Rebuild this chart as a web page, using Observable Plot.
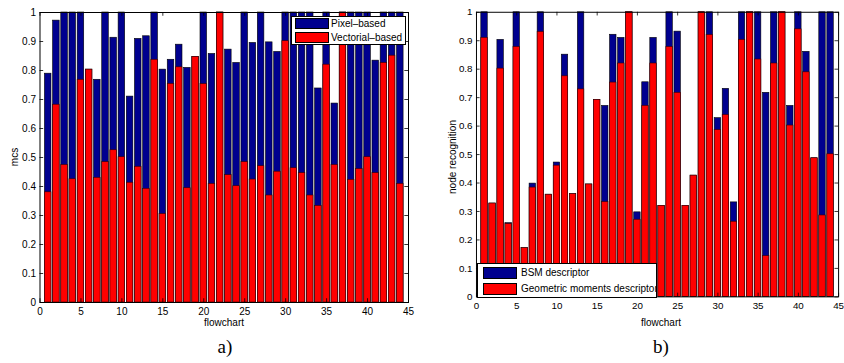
<!DOCTYPE html>
<html><head><meta charset="utf-8">
<script src="https://cdn.jsdelivr.net/npm/d3@7"></script>
<script src="https://cdn.jsdelivr.net/npm/@observablehq/plot@0.6"></script>
<style>
html,body{margin:0;padding:0;background:#fff;overflow:hidden}
#fig{position:relative;width:844px;height:363px;overflow:hidden;font-family:"Liberation Sans",Arial,sans-serif;background:#fff}
.pw{position:absolute;top:0}
.lbl{position:absolute;font-size:10px;color:#000;white-space:nowrap;transform:translate(-50%,-50%);line-height:1}
.rot{transform:translate(-50%,-50%) rotate(-90deg)}
.legend{position:absolute;background:#fff;border:1px solid #000;box-sizing:border-box;overflow:hidden}
.sw{position:absolute;border:1px solid #000;box-sizing:border-box;width:34px}
.lt{position:absolute;font-size:10px;line-height:1;transform:translateY(-50%);white-space:nowrap}
.cap{position:absolute;font-family:"Liberation Serif","DejaVu Serif",serif;font-size:19px;transform:translate(-50%,-50%);line-height:1}
</style></head><body><div id="fig"></div>
<script>
// ---- data ----
const flowcharts = d3.range(1, 45);
const xTicks = [0, 5, 10, 15, 20, 25, 30, 35, 40, 45];
const yTicks = [0, 0.1, 0.2, 0.3, 0.4, 0.5, 0.6, 0.7, 0.8, 0.9, 1];

const mcsPixel = [0.789, 0.972, 1, 1, 1, 0.803, 0.768, 1, 0.913, 1, 0.710, 0.909, 0.918, 1, 0.803, 0.837, 0.889, 0.809, 0.847, 1, 0.857, 1,
  0.872, 0.826, 1, 0.895, 1, 0.897, 0.864, 1, 1, 1, 1, 0.738, 1, 0.686, 1, 1, 1, 1, 0.834, 1, 1, 1];
const mcsVectorial = [0.380, 0.682, 0.474, 0.425, 0.768, 0.803, 0.430, 0.484, 0.525, 0.501, 0.413, 0.468, 0.392, 0.837, 0.305, 0.754, 0.811, 0.394, 0.847, 0.753, 0.409, 1,
  0.439, 0.401, 0.484, 0.424, 0.470, 0.369, 0.451, 0.901, 0.463, 0.446, 0.369, 0.333, 0.820, 0.474, 1, 0.423, 0.460, 0.501, 0.446, 0.826, 0.851, 0.409];

const nodeBSM = [1, 0.328, 0.903, 0.259, 1, 0.171, 0.398, 1, 0.359, 0.472, 0.851, 0.361, 1, 0.395, 0.692, 0.671, 0.921, 0.910, 1, 0.297, 0.754, 0.910,
  0.320, 1, 0.932, 0.320, 0.426, 1, 1, 0.628, 0.731, 0.332, 1, 1, 1, 0.717, 1, 1, 0.671, 1, 0.861, 0.487, 1, 1];
const nodeGeometric = [0.910, 0.328, 0.802, 0.256, 0.878, 0.171, 0.384, 0.931, 0.359, 0.461, 0.775, 0.361, 0.729, 0.395, 0.692, 0.333, 0.753, 0.820, 1, 0.271, 0.671, 0.820,
  0.320, 0.878, 0.717, 0.320, 0.426, 1, 0.920, 0.586, 0.639, 0.264, 0.903, 1, 0.834, 0.143, 0.820, 1, 0.602, 0.940, 0.789, 0.487, 0.286, 0.501];

const seriesLeft = ["Pixel–based", "Vectorial–based"];
const seriesRight = ["BSM descriptor", "Geometric moments descriptor"];
const BLUE = "#00008f", RED = "#ff0000";

function panel(blue, red, width, marginLeft, marginRight) {
  const data = flowcharts.map((f, i) => ({f, blue: blue[i], red: red[i]}));
  return Plot.plot({
    width, height: 363, marginLeft, marginRight, marginTop: 12, marginBottom: 61,
    x: {domain: [0, 45]},
    y: {domain: [0, 1]},
    style: {fontFamily: '"Liberation Sans", Arial, sans-serif', fontSize: "10px", color: "#000", background: "transparent", overflow: "visible"},
    marks: [
      Plot.rect(data, {x1: d => d.f - 0.4, x2: d => d.f + 0.4, y1: 0, y2: "blue", fill: BLUE, stroke: "#000", strokeWidth: 0.6}),
      Plot.rect(data, {x1: d => d.f - 0.4, x2: d => d.f + 0.4, y1: 0, y2: "red", fill: RED, stroke: "#300", strokeWidth: 0.6}),
      Plot.ruleX(xTicks, {x: d => d, y1: 0, y2: 0.013, stroke: "#000", strokeWidth: 0.8}),
      Plot.ruleX(xTicks, {x: d => d, y1: 0.987, y2: 1, stroke: "#000", strokeWidth: 0.8}),
      Plot.ruleY(yTicks, {y: d => d, x1: 0, x2: 0.45, stroke: "#000", strokeWidth: 0.8}),
      Plot.ruleY(yTicks, {y: d => d, x1: 44.55, x2: 45, stroke: "#000", strokeWidth: 0.8}),
      Plot.frame({stroke: "#000", strokeWidth: 1}),
      Plot.axisX({ticks: xTicks, tickSize: 0, tickPadding: 5, label: null, tickFormat: d => String(d)}),
      Plot.axisY({ticks: yTicks, tickSize: 0, tickPadding: 4, label: null, tickFormat: d => String(+d.toFixed(1))})
    ]
  });
}

const fig = document.getElementById("fig");
function place(node, left) {
  const w = document.createElement("div");
  w.className = "pw";
  w.style.left = left + "px";
  w.appendChild(node);
  fig.appendChild(w);
}
place(panel(mcsPixel, mcsVectorial, 420, 39.5, 12), 0);
place(panel(nodeBSM, nodeGeometric, 430, 55, 6), 422);

function html(cls, text, x, y) {
  const d = document.createElement("div");
  d.className = cls;
  d.textContent = text;
  d.style.left = x + "px";
  d.style.top = y + "px";
  fig.appendChild(d);
  return d;
}
html("lbl rot", "mcs", 15, 157);
html("lbl rot", "node recognition", 453, 157);
html("lbl", "flowchart", 224, 323);
html("lbl", "flowchart", 661, 323);
html("cap", "a)", 225, 346);
html("cap", "b)", 661, 346);

function legend(names, left, top, w, h, swx, rows, rowH, tx) {
  const box = document.createElement("div");
  box.className = "legend";
  Object.assign(box.style, {left: left + "px", top: top + "px", width: w + "px", height: h + "px"});
  names.forEach((n, i) => {
    const s = document.createElement("div");
    s.className = "sw";
    Object.assign(s.style, {left: swx + "px", top: rows[i] + "px", height: rowH + "px", background: i === 0 ? BLUE : RED});
    box.appendChild(s);
    const t = document.createElement("div");
    t.className = "lt";
    t.textContent = n;
    Object.assign(t.style, {left: tx + "px", top: (rows[i] + rowH / 2) + "px"});
    box.appendChild(t);
  });
  fig.appendChild(box);
}
legend(seriesLeft, 291, 16, 115, 29, 3, [1, 15], 11, 39);
legend(seriesRight, 477, 263, 180, 35, 5, [3, 19], 12, 43);
</script>
</body></html>
